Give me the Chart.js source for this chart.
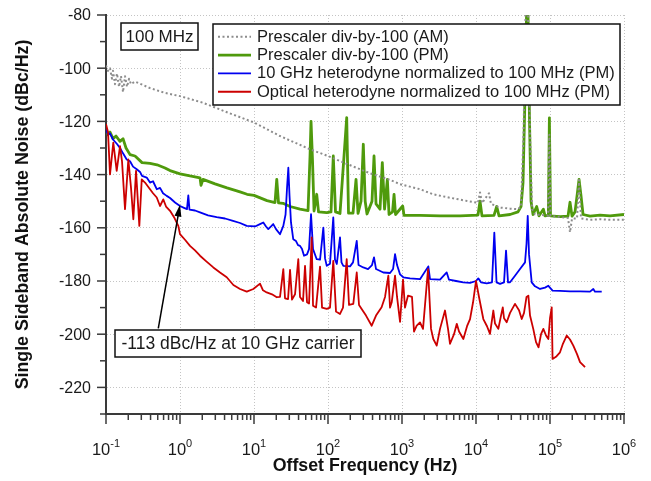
<!DOCTYPE html>
<html>
<head>
<meta charset="utf-8">
<script src="https://cdn.jsdelivr.net/npm/chart.js@4.4.1/dist/chart.umd.min.js"></script>
<style>
  html, body { margin: 0; padding: 0; background: #fff; }
  #noiseChart { display: block; }
</style>
</head>
<body>
<canvas id="noiseChart" width="651" height="481"></canvas>
<script>
// Prescaler div-by-100 (AM)
const amFreq = [0.1, 0.1064, 0.1133, 0.1205, 0.1243, 0.1323, 0.1408, 0.1499, 0.1595, 0.1698,
  0.1807, 0.1923, 0.2047, 0.2178, 0.2468, 0.3934, 0.6277, 1, 2.047, 4.742,
  10, 22.47, 57.17, 100, 180.7, 369.6, 689.2, 941.2, 1751, 2626,
  4456, 7568, 10640, 11330, 12050, 14990, 15950, 21120, 28840, 36960,
  40580, 43880, 46700, 50480, 53720, 57170, 62770, 85720, 94120, 98100,
  101600, 136500, 175100, 186400, 198400, 231900, 246800, 262600, 347300, 474200,
  647600, 1000000];
const amLevel = [-99, -101, -100, -104, -101, -106, -102, -107, -103, -109,
  -103, -107, -104, -106, -105, -107.5, -109.3, -110.5, -113, -117,
  -120.4, -125.5, -130.5, -133, -136, -139.5, -142, -143.6, -145.5, -147.4,
  -148.7, -149.9, -150.6, -146.7, -150.7, -147, -151, -152.4, -152.8, -153,
  -152, -125, -80, -80, -125, -153, -155, -155.3, -155.5, -125,
  -155.5, -156, -156.3, -161.7, -156.5, -156.5, -142, -156.5, -157, -156.8,
  -157, -157];

// Prescaler div-by-100 (PM)
const pmFreq = [0.1, 0.1064, 0.1133, 0.1243, 0.1365, 0.1546, 0.1698, 0.1864, 0.2112, 0.2468,
  0.3069, 0.3934, 0.4893, 0.6277, 0.7335, 1, 1.365, 1.864, 1.923, 2.047,
  2.975, 4.319, 6.476, 8.054, 10, 14.99, 19.23, 20.3, 21.45, 24.68,
  30.69, 41.87, 53.72, 57.17, 58.98, 61.8, 64.76, 70.4, 74.5, 96.2,
  109.8, 117.9, 126.3, 145.3, 179, 189.3, 217.8, 239.2, 254.6, 279.5,
  300, 318, 336.6, 393.4, 418.7, 445.6, 504.8, 542, 581, 634,
  668.1, 745, 780.7, 818, 1022, 1064, 1751, 3263, 6085, 10640,
  11330, 12050, 17510, 19050, 20470, 28840, 36960, 40580, 43190, 45970,
  48170, 50480, 52890, 55420, 58980, 66070, 71100, 81300, 85720, 95000,
  98100, 101600, 136500, 175100, 186400, 198400, 217800, 231900, 246800, 262600,
  279500, 347300, 474200, 647600, 1000000];
const pmLevel = [-123, -125, -124, -126.5, -125.5, -127.5, -126.5, -130, -132.5, -133,
  -135.5, -135.8, -136.3, -137.5, -138.5, -139.7, -140.5, -141.2, -144, -141.8,
  -143.5, -145, -146.5, -147.4, -147.8, -149.8, -150.5, -141.8, -150.6, -150.8,
  -152, -153, -153.5, -133, -120, -135, -153.7, -147.4, -154, -154.3,
  -154, -133, -154, -154.6, -118.6, -154.5, -154.5, -141.8, -154.6, -150,
  -128.6, -150, -154.8, -150, -133, -151, -153, -135.5, -153, -141.8,
  -155, -154, -147.4, -155, -151.8, -155.3, -155.3, -155.5, -155.5, -155.2,
  -150, -155.5, -155.3, -152, -155.5, -155, -154, -152, -143, -110,
  -80, -80, -120, -150, -155, -152, -155.5, -153, -155.5, -155.3,
  -118.7, -155.5, -155.8, -155.6, -150.4, -155.6, -154, -148, -141.8, -148,
  -155, -155.6, -155.2, -155.5, -155];

// 10 GHz heterodyne normalized to 100 MHz (PM)
const rfFreq = [0.1, 0.1064, 0.1133, 0.1243, 0.1408, 0.1546, 0.1698, 0.1905, 0.2112, 0.2319,
  0.2602, 0.2884, 0.3069, 0.355, 0.3934, 0.4319, 0.485, 0.5372, 0.5898, 0.661,
  0.7335, 0.8572, 1, 1.133, 1.243, 1.295, 1.344, 1.595, 1.864, 2.392,
  3.13, 4.058, 5.207, 6.476, 7.98, 10.32, 12.05, 13.36, 14.53, 15.6,
  16.98, 18.2, 19.84, 22.47, 24.9, 26.7, 27.95, 29.1, 30.2, 31.62,
  33.9, 36.96, 39.34, 41.87, 44.56, 47.42, 52.07, 55.42, 58.98, 62.77,
  70.4, 78.07, 86.5, 91.23, 96.2, 106.4, 117.9, 124.3, 131.5, 145.3,
  152.2, 161, 198.4, 217.8, 244.5, 258.6, 300, 347.3, 393.4, 418.7,
  445.6, 559, 689.2, 756.8, 805.4, 857.2, 941.2, 1042, 1283, 1751,
  2269, 2392, 3263, 4020, 4319, 5372, 6745, 8309, 10000, 10740,
  11680, 13950, 16460, 17680, 18940, 21120, 23920, 25460, 27090, 28840,
  33660, 39340, 45970, 48170, 50000, 52070, 56600, 62770, 73350, 85720,
  95000, 108300, 136500, 186400, 254600, 347300, 384800, 405800, 500000];
const rfLevel = [-123, -125, -124.5, -126.8, -128.5, -130, -132, -134.3, -135, -137,
  -138, -139, -140.5, -141.1, -143, -142.5, -145.5, -145, -147, -148,
  -148.8, -150.5, -151.8, -152.5, -153, -147.8, -153.2, -153.5, -154.2, -155.3,
  -156, -156.5, -157.4, -158.2, -159.3, -159.5, -158.6, -158, -159.5, -160.5,
  -159.5, -158.6, -160.5, -162.4, -159.3, -155, -145, -137.4, -148, -158,
  -164.3, -165, -166.5, -166.8, -168, -170.5, -170, -168, -154.9, -168,
  -171.8, -172, -159.9, -171.5, -174.3, -173.5, -156.1, -172, -173.6, -163.6,
  -173, -174.3, -174.5, -173, -164.9, -174, -174.9, -175.5, -174, -171.1,
  -175.5, -176.8, -177, -175.5, -169.9, -174, -177.5, -178.6, -179, -179.3,
  -174.5, -179.3, -179.5, -176.8, -179.5, -180, -180.5, -180.7, -180, -179,
  -180.5, -180.9, -180.5, -161.8, -180.5, -181.1, -180.5, -168.6, -180.5, -180.5,
  -178, -175.5, -173, -166, -155.5, -170, -180.5, -182, -183, -182.5,
  -181.8, -183.6, -183.7, -183.9, -183.9, -184, -183, -184, -184];

// Optical heterodyne normalized to 100 MHz (PM)
const optFreq = [0.1, 0.1064, 0.1133, 0.1255, 0.1395, 0.1546, 0.1646, 0.1807, 0.2003, 0.2178,
  0.2341, 0.2546, 0.2821, 0.304, 0.3366, 0.3934, 0.4319, 0.485, 0.5372, 0.594,
  0.6476, 0.7335, 0.8309, 0.9485, 1, 1.168, 1.365, 1.595, 1.864, 2.247,
  2.82, 3.473, 4.28, 5.26, 6.476, 7.98, 9.8, 12.05, 13.23, 14.85,
  17.51, 20.3, 22.47, 24.9, 26.26, 28.84, 30.69, 32.63, 35.83, 39.7,
  41.87, 45.97, 48.93, 52.07, 55.42, 60.2, 62.77, 68.92, 78.07, 83.09,
  96.2, 106.4, 117.9, 128.3, 145.3, 159.5, 179, 192.3, 219.7, 244.5,
  262.6, 285, 326.3, 389.6, 445.6, 530, 589.8, 654, 689.2, 726,
  805.4, 857.2, 941.2, 1032, 1098, 1205, 1365, 1453, 1580, 1751,
  1923, 2247, 2468, 2650, 2945, 3263, 3813, 4187, 4456, 5048,
  5500, 5898, 6745, 7568, 8309, 9123, 10000, 10980, 12560, 14080,
  15460, 17150, 18070, 20030, 21780, 23000, 23920, 26000, 28840, 33660,
  38130, 41500, 44560, 48170, 51000, 53720, 59400, 64760, 70000, 75680,
  81300, 88430, 95000, 100000, 105500, 108300, 120500, 136500, 149900, 168200,
  186400, 206600, 231900, 254600, 297500];
const optLevel = [-121, -124, -139.9, -128, -138.6, -129.3, -135, -153, -134.3, -145,
  -156.8, -138.6, -159.3, -141.8, -143, -145.5, -147, -148.6, -151.8, -149.3,
  -152, -153.6, -156, -159.3, -162.4, -164.5, -166.8, -168.5, -170.5, -172.5,
  -174.9, -176.8, -178.6, -181.5, -183, -184, -183, -181, -183.5, -184.3,
  -185, -186.1, -186, -175.5, -186.5, -186.8, -175.8, -187, -185, -171.8,
  -186, -187.5, -174.3, -188, -188.5, -163.6, -189.3, -190, -174.6, -190,
  -190.5, -190, -172.4, -191.5, -192.4, -190, -171.8, -189, -188.6, -176.8,
  -189, -190.5, -193, -196.8, -193, -189.9, -186, -178, -190, -188,
  -178, -186, -195.4, -179.5, -190, -185.5, -186, -199, -196.8, -195.6,
  -198, -175.5, -198, -201.8, -204.3, -198, -191.1, -198, -203.6, -200,
  -196.1, -199, -201.8, -197, -194.3, -188, -180, -186, -194.3, -197,
  -199.9, -191.1, -196, -198, -193, -189.9, -194, -195.5, -192, -188.6,
  -191, -194.3, -192, -186, -185.5, -193, -198, -203, -204.9, -200,
  -198, -200.5, -201.8, -194, -189.9, -209.3, -208.5, -206.8, -203.5, -200.5,
  -202, -204.3, -207.5, -210.5, -212.4];

const seriesLabels = [
  "Prescaler div-by-100 (AM)",
  "Prescaler div-by-100 (PM)",
  "10 GHz heterodyne normalized to 100 MHz (PM)",
  "Optical heterodyne normalized to 100 MHz (PM)"
];

const xTickValues = [0.1, 1, 10, 100, 1000, 10000, 100000, 1000000];
const xTickExponents = ["-1", "0", "1", "2", "3", "4", "5", "6"];
const yTickValues = [-80, -100, -120, -140, -160, -180, -200, -220];
const yTickLabels = ["-80", "-100", "-120", "-140", "-160", "-180", "-200", "-220"];

const FONT = "'Liberation Sans', Arial, Helvetica, sans-serif";
const AXIS = "#3a3a3a";

function toPoints(xs, ys) {
  if (xs.length !== ys.length) throw new Error("length mismatch " + xs.length + " vs " + ys.length);
  return xs.map((x, i) => ({ x: x, y: ys[i] }));
}

function line(ctx, x1, y1, x2, y2) {
  ctx.beginPath();
  ctx.moveTo(x1, y1);
  ctx.lineTo(x2, y2);
  ctx.stroke();
}

function textBox(ctx, text, left, top, w, h, size) {
  ctx.fillStyle = "#fff";
  ctx.fillRect(left, top, w, h);
  ctx.strokeStyle = "#111";
  ctx.lineWidth = 1.5;
  ctx.strokeRect(left, top, w, h);
  ctx.fillStyle = "#1a1a1a";
  ctx.font = size + "px " + FONT;
  ctx.textAlign = "center";
  ctx.textBaseline = "middle";
  ctx.fillText(text, left + w / 2, top + h / 2 + 0.5);
}

const decorations = {
  id: "decorations",
  afterDraw(chart) {
    const { ctx, chartArea: area } = chart;
    const x = chart.scales.x, y = chart.scales.y;
    ctx.save();

    // tick marks
    ctx.strokeStyle = AXIS;
    ctx.lineWidth = 1.5;
    for (let v = -230; v <= -80; v += 10) {
      const py = y.getPixelForValue(v);
      const len = v % 20 === 0 ? 9 : 6;
      line(ctx, area.left - len, py, area.left, py);
    }
    for (let d = -1; d <= 6; d++) {
      const base = Math.pow(10, d);
      line(ctx, x.getPixelForValue(base), area.bottom, x.getPixelForValue(base), area.bottom + 10);
      if (d < 6) {
        for (let k = 2; k <= 9; k++) {
          const px = x.getPixelForValue(k * base);
          line(ctx, px, area.bottom, px, area.bottom + 6);
        }
      }
    }

    // tick labels
    ctx.fillStyle = "#1a1a1a";
    ctx.font = "16px " + FONT;
    ctx.textAlign = "right";
    ctx.textBaseline = "middle";
    yTickValues.forEach((v, i) => ctx.fillText(yTickLabels[i], area.left - 15, y.getPixelForValue(v) + 1));

    ctx.textAlign = "left";
    ctx.textBaseline = "alphabetic";
    xTickValues.forEach((v, i) => {
      const px = x.getPixelForValue(v);
      ctx.font = "16.5px " + FONT;
      const w1 = ctx.measureText("10").width;
      ctx.font = "11px " + FONT;
      const w2 = ctx.measureText(xTickExponents[i]).width;
      const start = px - (w1 + w2) / 2;
      ctx.font = "16.5px " + FONT;
      ctx.fillText("10", start, area.bottom + 41);
      ctx.font = "11px " + FONT;
      ctx.fillText(xTickExponents[i], start + w1, area.bottom + 33);
    });

    // legend
    const lx = 213, ly = 24, lw = 407, lh = 81;
    ctx.fillStyle = "#fff";
    ctx.fillRect(lx, ly, lw, lh);
    ctx.strokeStyle = "#111";
    ctx.lineWidth = 1.5;
    ctx.strokeRect(lx, ly, lw, lh);
    chart.data.datasets.forEach((ds, i) => {
      const rowY = ly + 12.7 + i * 18.35;
      ctx.save();
      ctx.strokeStyle = ds.borderColor;
      ctx.lineWidth = ds.borderWidth;
      ctx.setLineDash(ds.borderDash || []);
      line(ctx, lx + 5, rowY, lx + 38, rowY);
      ctx.restore();
      ctx.fillStyle = "#1a1a1a";
      ctx.font = "16.5px " + FONT;
      ctx.textAlign = "left";
      ctx.textBaseline = "middle";
      ctx.fillText(ds.label, lx + 44, rowY + 0.5);
    });

    // carrier label
    textBox(ctx, "100 MHz", 121, 23, 77, 27, 17);

    // annotation arrow
    const tipX = x.getPixelForValue(1.0), tipY = y.getPixelForValue(-151.3);
    const tailX = x.getPixelForValue(0.509), tailY = y.getPixelForValue(-197.8);
    const ang = Math.atan2(tipY - tailY, tipX - tailX);
    ctx.strokeStyle = "#000";
    ctx.fillStyle = "#000";
    ctx.lineWidth = 1.5;
    line(ctx, tailX, tailY, tipX - 8 * Math.cos(ang), tipY - 8 * Math.sin(ang));
    ctx.beginPath();
    ctx.moveTo(tipX, tipY);
    ctx.lineTo(tipX - 12 * Math.cos(ang) + 3.5 * Math.sin(ang), tipY - 12 * Math.sin(ang) - 3.5 * Math.cos(ang));
    ctx.lineTo(tipX - 12 * Math.cos(ang) - 3.5 * Math.sin(ang), tipY - 12 * Math.sin(ang) + 3.5 * Math.cos(ang));
    ctx.closePath();
    ctx.fill();
    textBox(ctx, "-113 dBc/Hz at 10 GHz carrier", 115, 330, 246, 27, 17.5);

    ctx.restore();
  }
};

Chart.defaults.font.family = FONT;

new Chart(document.getElementById("noiseChart"), {
  type: "line",
  data: {
    datasets: [{
      label: seriesLabels[0],
      data: toPoints(amFreq, amLevel),
      borderColor: "#8c8c8c",
      borderWidth: 2,
      borderDash: [2, 2.5],
      order: 0
    }, {
      label: seriesLabels[1],
      data: toPoints(pmFreq, pmLevel),
      borderColor: "#4f9a0c",
      borderWidth: 2.8,
      order: 3
    }, {
      label: seriesLabels[2],
      data: toPoints(rfFreq, rfLevel),
      borderColor: "#0000f0",
      borderWidth: 1.8,
      order: 2
    }, {
      label: seriesLabels[3],
      data: toPoints(optFreq, optLevel),
      borderColor: "#cc0000",
      borderWidth: 1.8,
      order: 1
    }]
  },
  options: {
    responsive: false,
    animation: false,
    devicePixelRatio: 1,
    layout: { padding: { top: 15, right: 27, left: 0, bottom: 0 } },
    elements: {
      point: { radius: 0, hoverRadius: 0 },
      line: { tension: 0, borderJoinStyle: "round", fill: false }
    },
    plugins: {
      legend: { display: false },
      tooltip: { enabled: false }
    },
    scales: {
      x: {
        type: "logarithmic",
        min: 0.1,
        max: 1000000,
        afterBuildTicks: s => { s.ticks = xTickValues.map(v => ({ value: v })); },
        afterFit: s => { s.height = 67; },
        ticks: { display: false },
        grid: { color: "#c4c4c4", lineWidth: 1, drawTicks: false },
        border: { display: true, color: AXIS, width: 2, dash: [1, 2] },
        title: {
          display: true,
          text: "Offset Frequency (Hz)",
          color: "#111",
          font: { size: 17.8, weight: "bold" },
          padding: { top: 0, bottom: 4 }
        }
      },
      y: {
        type: "linear",
        min: -230,
        max: -80,
        afterBuildTicks: s => { s.ticks = yTickValues.map(v => ({ value: v })); },
        afterFit: s => { s.width = 106; },
        ticks: { display: false },
        grid: { color: "#c4c4c4", lineWidth: 1, drawTicks: false },
        border: { display: true, color: AXIS, width: 2, dash: [1, 2] },
        title: {
          display: true,
          text: "Single Sideband Absolute Noise (dBc/Hz)",
          color: "#111",
          font: { size: 17.8, weight: "bold" },
          padding: { top: 12, bottom: 0 }
        }
      }
    }
  },
  plugins: [decorations]
});
</script>
</body>
</html>
